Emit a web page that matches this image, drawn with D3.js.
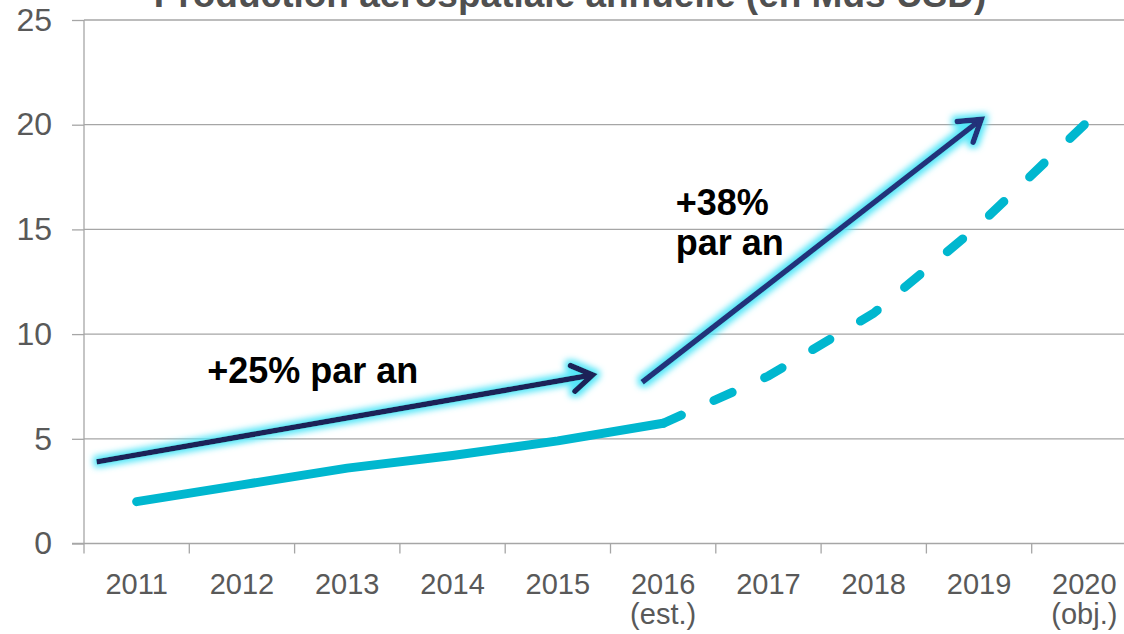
<!DOCTYPE html>
<html lang="fr">
<head>
<meta charset="utf-8">
<title>Production aérospatiale annuelle</title>
<script src="https://cdn.jsdelivr.net/npm/d3@7"></script>
<style>
  body { margin: 0; background: #fff; }
  svg { display: block; font-family: "Liberation Sans", Arial, sans-serif; }
  .grid line { stroke: #a6a6a6; stroke-width: 1.3px; }
  .axis path, .axis line { stroke: #a6a6a6; stroke-width: 1.3px; }
  .axis text { fill: #595959; }
</style>
</head>
<body>
<script>

// categories and values
var years = ["2011", "2012", "2013", "2014", "2015", "2016", "2017", "2018", "2019", "2020"];
var yearNotes = ["", "", "", "", "", "(est.)", "", "", "", "(obj.)"];
var actual = [2.0, 2.8, 3.6, 4.2, 4.9, 5.74];          // 2011 - 2016, solid
var projected = [5.74, 8.0, 11.0, 15.2, 20.0];         // 2016 - 2020, dashed
var yTicks = [0, 5, 10, 15, 20, 25];

// growth arrows, in (year, value) units
var arrows = [
  { x1: 2010.62, y1: 3.9, x2: 2015.33, y2: 8.05 },
  { x1: 2015.80, y1: 7.7, x2: 2019.02, y2: 20.25 }
];
var notes = [
  { x: 2011.67, y: 7.66, lines: ["+25% par an"] },
  { x: 2016.12, y: 15.69, lines: ["+38%", "par an"] }
];
var title = "Production aérospatiale annuelle (en Mds USD)";

var w = 1124, h = 634;
var plotLeft = 84, plotTop = 20, plotRight = 1137, plotBottom = 543.5;

var svg = d3.select("body").append("svg")
    .attr("width", w)
    .attr("height", h);

// glow for the arrows
var f = svg.append("defs").append("filter")
    .attr("id", "glow")
    .attr("filterUnits", "userSpaceOnUse")
    .attr("x", 0).attr("y", 0).attr("width", w).attr("height", h);
f.append("feMorphology").attr("in", "SourceAlpha").attr("operator", "dilate").attr("radius", 2.5).attr("result", "d");
f.append("feGaussianBlur").attr("in", "d").attr("stdDeviation", 3.2).attr("result", "b");
f.append("feFlood").attr("flood-color", "#55e6f8");
f.append("feComposite").attr("in2", "b").attr("operator", "in").attr("result", "g");
var m = f.append("feMerge");
m.append("feMergeNode").attr("in", "g");
m.append("feMergeNode").attr("in", "SourceGraphic");

var x = d3.scaleBand().domain(years).range([plotLeft, plotRight]);
var xc = function(i) { return x(years[i]) + x.bandwidth() / 2; };
var xYear = d3.scaleLinear().domain([2010.5, 2020.5]).range([plotLeft, plotRight]);
var y = d3.scaleLinear().domain([0, 25]).range([plotBottom, plotTop]);

// gridlines
svg.append("g").attr("class", "grid")
  .selectAll("line")
  .data(yTicks.slice(1))
  .enter().append("line")
    .attr("x1", plotLeft).attr("x2", w)
    .attr("y1", function(d) { return y(d); })
    .attr("y2", function(d) { return y(d); });

// y axis
var yAxis = svg.append("g").attr("class", "axis")
    .attr("transform", "translate(" + plotLeft + ",0)")
    .call(d3.axisLeft(y).tickValues(yTicks).tickSize(12).tickPadding(20));
yAxis.select(".domain").attr("d", "M0," + plotTop + "V" + (plotBottom + 10));
yAxis.selectAll("text").style("font-size", "32px");

// x axis: ticks on category boundaries, labels in the middle
var xAxis = svg.append("g").attr("class", "axis")
    .attr("transform", "translate(0," + plotBottom + ")");
xAxis.append("path").attr("d", "M" + (plotLeft - 12) + ",0H" + w);
xAxis.selectAll(".tk")
  .data(d3.range(1, years.length + 1))
  .enter().append("line")
    .attr("x1", function(i) { return xYear(2010.5 + i); })
    .attr("x2", function(i) { return xYear(2010.5 + i); })
    .attr("y1", 0).attr("y2", 10);
var lab = xAxis.selectAll(".lab")
  .data(years)
  .enter().append("text")
    .attr("x", function(d, i) { return xc(i); })
    .attr("y", 50)
    .attr("text-anchor", "middle")
    .style("font-size", "29px");
lab.append("tspan").text(function(d) { return d; });
lab.append("tspan")
    .attr("x", function(d, i) { return xc(i); })
    .attr("dy", 30)
    .text(function(d, i) { return yearNotes[i]; });

// series
var line = d3.line()
    .x(function(d) { return xc(d.i); })
    .y(function(d) { return y(d.v); });

svg.append("path")
    .datum(actual.map(function(v, i) { return { i: i, v: v }; }))
    .attr("d", line)
    .attr("fill", "none")
    .attr("stroke", "#00b7cf")
    .attr("stroke-width", 9)
    .attr("stroke-linecap", "round")
    .attr("stroke-linejoin", "round");

var dashed = svg.append("path")
    .datum(projected.map(function(v, i) { return { i: i + 5, v: v }; }))
    .attr("d", line)
    .attr("fill", "none")
    .attr("stroke", "#00b7cf")
    .attr("stroke-width", 9)
    .attr("stroke-linecap", "round")
    .attr("stroke-linejoin", "round");

// fit the dash pattern so a dash starts at 2016 and one ends at 2020
var L = dashed.node().getTotalLength();
var dash = 20;
var n = Math.round((L - dash) / 58);
var period = (L - dash) / n;
dashed.attr("stroke-dasharray", dash + "," + (period - dash));

// arrows
var ag = svg.append("g").attr("filter", "url(#glow)");
arrows.forEach(function(a, k) {
  var X1 = xYear(a.x1), Y1 = y(a.y1), X2 = xYear(a.x2), Y2 = y(a.y2);
  var ang = Math.atan2(Y2 - Y1, X2 - X1);
  var len = 24, spread = Math.PI / 5.5;
  var col = k ? "#22307a" : "#1c2258";
  var p1 = [X2 - len * Math.cos(ang - spread), Y2 - len * Math.sin(ang - spread)];
  var p2 = [X2 - len * Math.cos(ang + spread), Y2 - len * Math.sin(ang + spread)];
  ag.append("line")
      .attr("x1", X1).attr("y1", Y1)
      .attr("x2", X2 - 2 * Math.cos(ang)).attr("y2", Y2 - 2 * Math.sin(ang))
      .attr("stroke", col)
      .attr("stroke-width", 5.5);
  ag.append("path")
      .attr("d", "M" + p1 + "L" + X2 + "," + Y2 + "L" + p2)
      .attr("fill", "none")
      .attr("stroke", col)
      .attr("stroke-width", 5.5)
      .attr("stroke-linecap", "round")
      .attr("stroke-linejoin", "miter");
});

// annotations
notes.forEach(function(n) {
  var t = svg.append("text")
      .attr("x", xYear(n.x))
      .attr("y", y(n.y))
      .style("font-size", "36px")
      .style("font-weight", "bold")
      .style("fill", "#000");
  n.lines.forEach(function(s, k) {
    t.append("tspan").attr("x", xYear(n.x)).attr("dy", k ? 40 : 0).text(s);
  });
});

// title, cut off by the top edge as in the reference
svg.append("text")
    .attr("x", 570)
    .attr("y", 7)
    .attr("text-anchor", "middle")
    .style("font-size", "37px")
    .style("font-weight", "bold")
    .style("fill", "#505050")
    .text(title);

</script>
</body>
</html>
